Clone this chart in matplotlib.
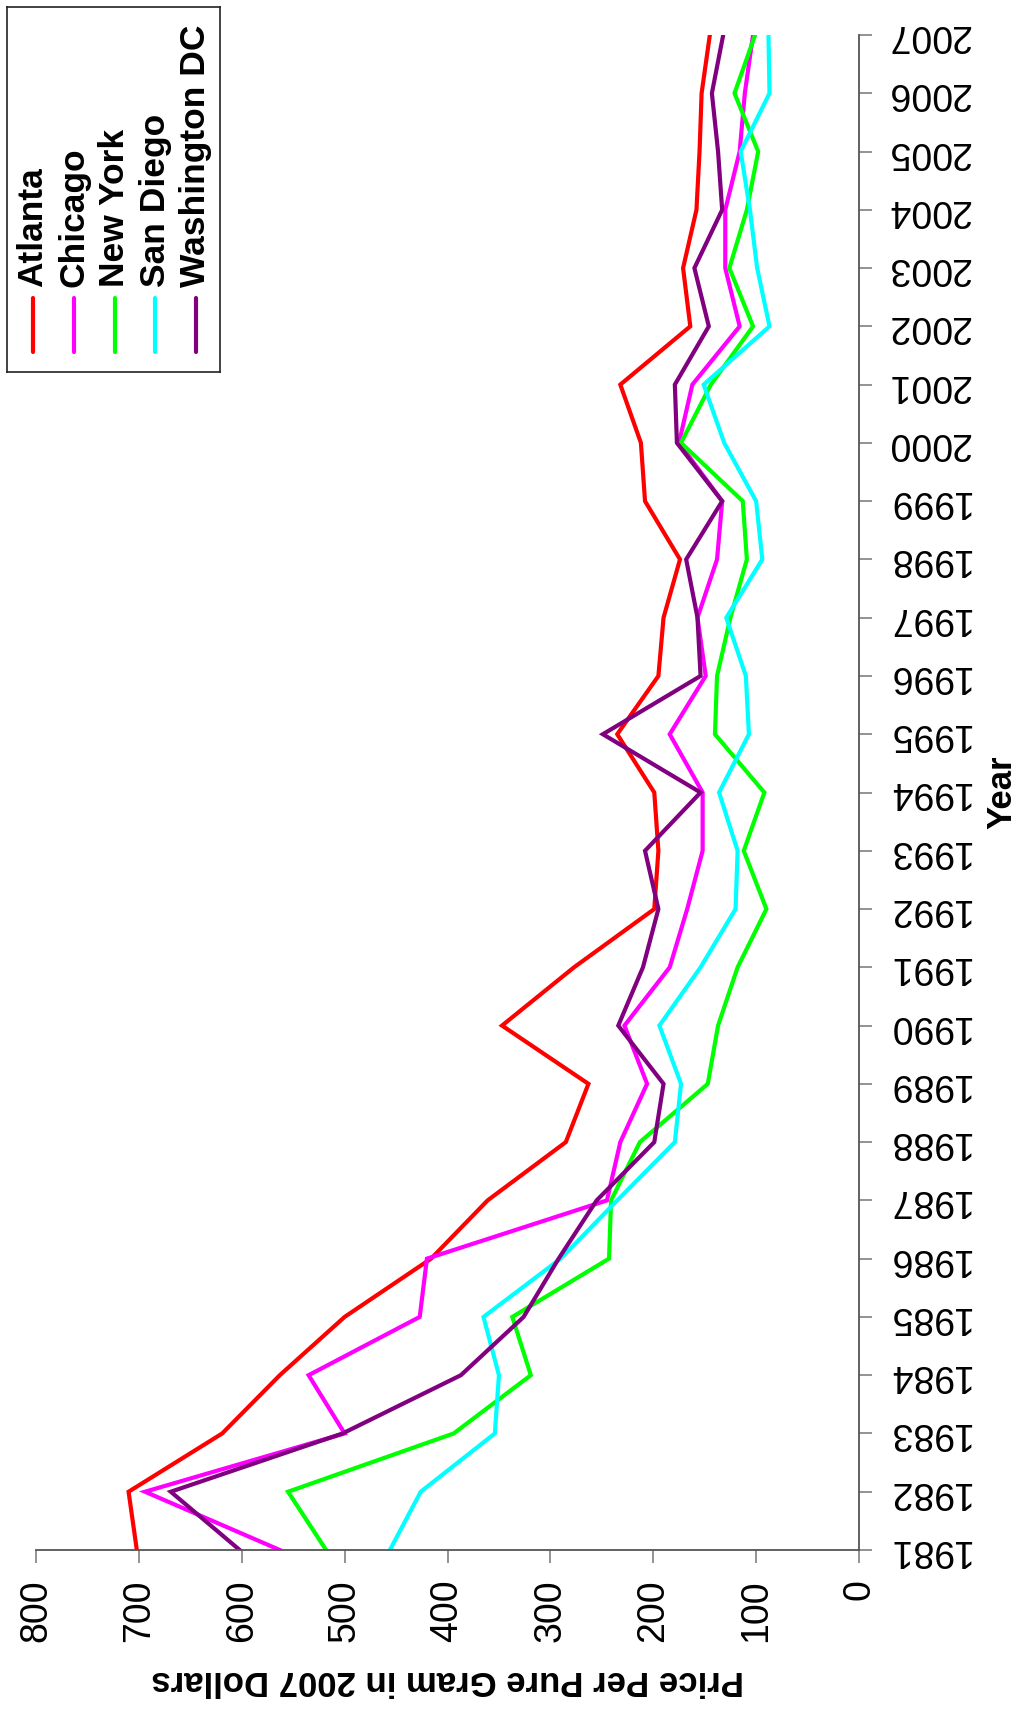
import matplotlib
matplotlib.use("Agg")
import matplotlib.pyplot as plt

plt.rcParams['font.family'] = ['Liberation Sans', 'DejaVu Sans']

years = list(range(1981, 2008))

atlanta = [702, 710, 619, 563, 500, 416, 361, 285, 263, 347, 277, 199, 195, 199,
           235, 195, 190, 174, 208, 212, 232, 164, 171, 158, 155, 153, 145]
chicago = [563, 694, 500, 535, 427, 420, 245, 232, 206, 228, 184, 167, 152, 152,
           184, 149, 157, 138, 133, 175, 162, 116, 130, 130, 116, 111, 103]
new_york = [518, 555, 394, 319, 337, 243, 241, 213, 147, 137, 118, 90, 112, 92,
            140, 138, 125, 109, 113, 173, 144, 103, 126, 109, 98, 121, 101]
san_diego = [456, 426, 354, 350, 365, 290, 235, 179, 173, 194, 154, 120, 118, 136,
             107, 110, 129, 94, 100, 131, 151, 87, 99, 106, 115, 87, 88]
washington = [602, 669, 502, 387, 326, 292, 255, 199, 190, 234, 210, 195, 208, 154,
              249, 154, 157, 168, 133, 177, 179, 146, 160, 133, 137, 143, 132]

cities = ["Atlanta", "Chicago", "New York", "San Diego", "Washington DC"]
series = [atlanta, chicago, new_york, san_diego, washington]
colors = ["#FF0000", "#FF00FF", "#00FF00", "#00FFFF", "#800080"]
price_ticks = list(range(0, 801, 100))

W, H = 1021, 1711
fig = plt.figure(figsize=(W / 100, H / 100), dpi=100)
ax = fig.add_axes([36 / W, 1 - 1550 / H, (859 - 36) / W, (1550 - 35) / H])

# chart is drawn turned on its side: price runs right-to-left, years upward
for vals, col in zip(series, colors):
    ax.plot(vals, years, color=col, lw=3.0, solid_joinstyle='miter')

ax.set_xlim(800, 0)
ax.set_ylim(years[0], years[-1])
ax.set_xticks(price_ticks)
ax.set_yticks(years)
ax.yaxis.tick_right()

for s in ["left", "top"]:
    ax.spines[s].set_visible(False)
for s in ["bottom", "right"]:
    ax.spines[s].set_color("#555555")
    ax.spines[s].set_linewidth(1.3)

ax.tick_params(axis="x", direction="out", length=9, width=1.2, color="#808080",
               labelsize=27, labelrotation=90, pad=12)
ax.tick_params(axis="y", direction="out", length=9, width=1.2, color="#808080",
               labelsize=27, labelrotation=180, pad=11)
for lbl in ax.get_yticklabels():
    lbl.set_verticalalignment("center")

ax.set_xlabel("Price Per Pure Gram in 2007 Dollars", rotation=180,
              fontweight="bold", fontsize=25)
ax.xaxis.set_label_coords(0.5, -0.075)
ax.yaxis.set_label_position("right")
ax.set_ylabel("Year", rotation=90, fontweight="bold", fontsize=25)
ax.yaxis.set_label_coords(1.153, 0.5)

# legend box, turned like the rest of the chart
lg = fig.add_axes([7 / W, 1 - 372 / H, 213 / W, 365 / H])
lg.set_xlim(0, 1)
lg.set_ylim(0, 1)
lg.set_xticks([])
lg.set_yticks([])
for s in lg.spines.values():
    s.set_linewidth(1.2)
    s.set_color("#222222")
xs = [0.122, 0.315, 0.507, 0.695, 0.887]
for x, name, col in zip(xs, cities, colors):
    lg.plot([x, x], [0.055, 0.203], color=col, lw=3.0, solid_capstyle="round")
    lg.text(x, 0.233, name, rotation=90, ha="center", va="bottom",
            fontsize=25.5, fontweight="bold")

fig.savefig("out.png", dpi=100)
